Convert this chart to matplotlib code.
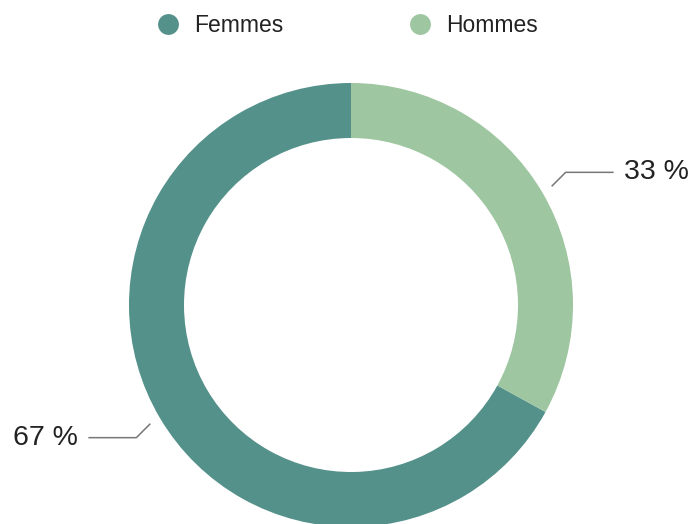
import matplotlib.pyplot as plt
import numpy as np
from matplotlib.lines import Line2D

plt.rcParams['font.family'] = ['Liberation Sans', 'DejaVu Sans']

labels = ['Femmes', 'Hommes']
values = [67, 33]
colors = ['#54918a', '#9ec6a1']

W, H = 694, 524
cx, cy = 351, 219      # donut centre in pixels (from bottom-left)
R = 222.0              # outer radius in pixels

fig = plt.figure(figsize=(W / 100, H / 100), dpi=100)
ax = fig.add_axes([0, 0, 1, 1])

wedges, _ = ax.pie(values, colors=colors, startangle=90, counterclock=True,
                   radius=1.0, wedgeprops=dict(width=55 / R, linewidth=0))

# one data unit == R pixels in both directions
ax.set_xlim(-cx / R, (W - cx) / R)
ax.set_ylim(-cy / R, (H - cy) / R)
ax.set_aspect('auto')
ax.axis('off')

# leader lines + percentage labels
for w, v in zip(wedges, values):
    theta = np.deg2rad((w.theta1 + w.theta2) / 2)
    c, s = np.cos(theta), np.sin(theta)
    sx = 1 if c > 0 else -1
    sy = 1 if s > 0 else -1
    x1, y1 = 1.05 * c, 1.05 * s
    x2, y2 = x1 + sx * 14 / R, y1 + sy * 14 / R
    x3 = x2 + sx * 48 / R
    ax.plot([x1, x2, x3], [y1, y2, y2], color='#777777', lw=1.1,
            solid_capstyle='butt')
    ax.text(x3 + sx * 10 / R, y2, f'{v} %', fontsize=20.5, color='#222222',
            ha='left' if sx > 0 else 'right', va='center')

handles = [Line2D([], [], ls='none', marker='o', markersize=15,
                  markerfacecolor=col, markeredgewidth=0) for col in colors]
fig.legend(handles, labels, loc='center', bbox_to_anchor=(346 / W, 1 - 26 / H),
           ncol=2, frameon=False, fontsize=16.5, handlelength=1.2,
           handletextpad=0.55, columnspacing=5.34, labelcolor='#222222')

fig.savefig('out.png', dpi=100)
